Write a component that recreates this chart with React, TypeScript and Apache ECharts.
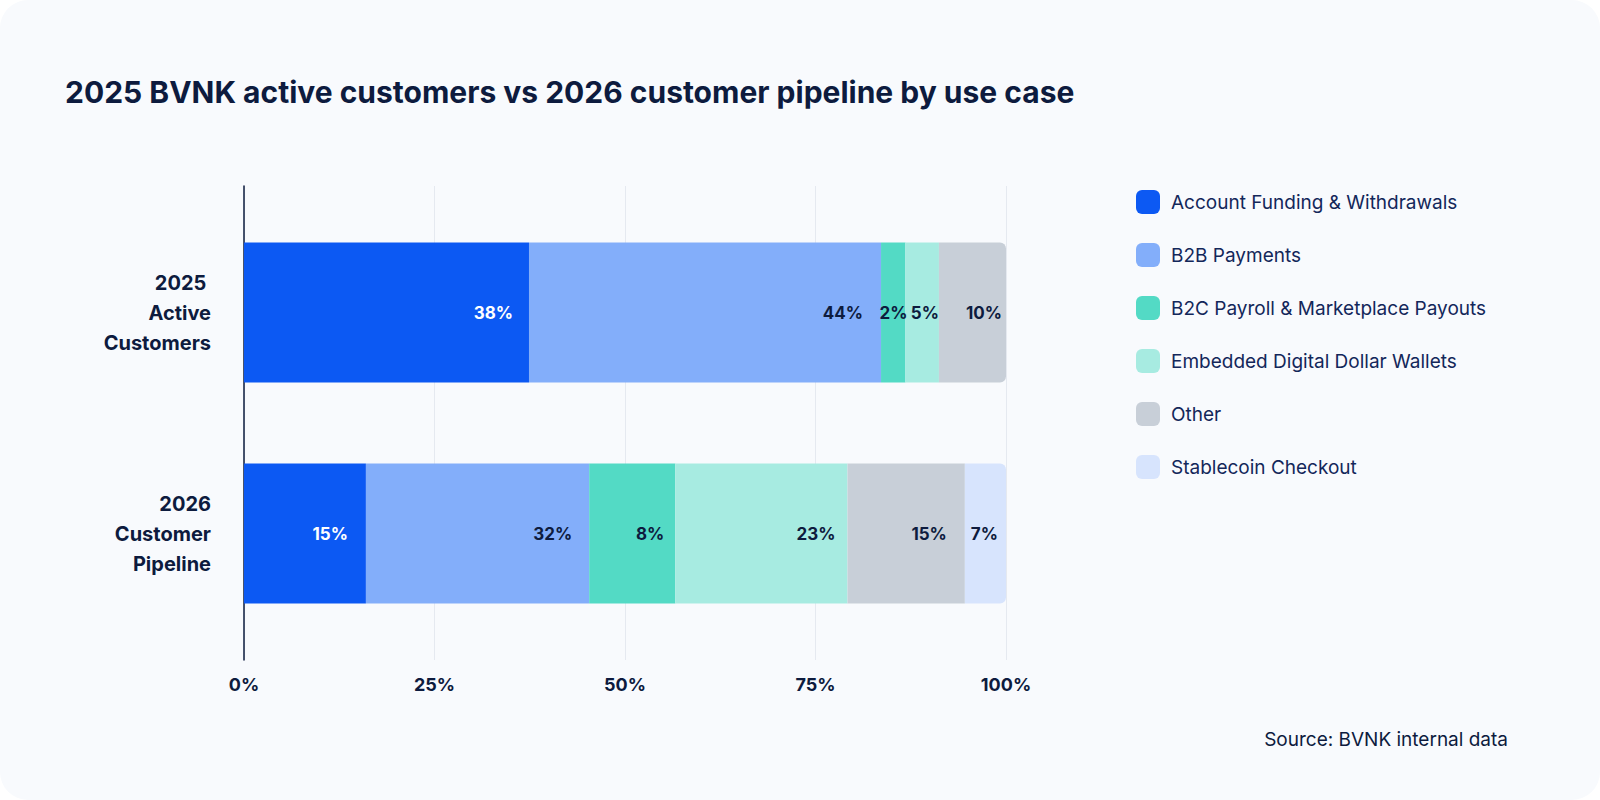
import React, { useEffect, useRef } from "react";
import * as echarts from "echarts";

const categories = ["2025 \nActive\nCustomers", "2026\nCustomer\nPipeline"];
const seriesNames = [
  "Account Funding & Withdrawals",
  "B2B Payments",
  "B2C Payroll & Marketplace Payouts",
  "Embedded Digital Dollar Wallets",
  "Other",
  "Stablecoin Checkout",
];
const seriesColors = ["#0c59f3", "#83aefa", "#53dac5", "#a7ebe1", "#c8cfd8", "#d7e4fd"];
// bar widths (share of 100)
const accountFunding = [37.4, 16.0];
const b2bPayments = [46.2, 29.3];
const b2cPayroll = [3.2, 11.3];
const embeddedWallets = [4.4, 22.6];
const other = [8.8, 15.4];
const stablecoinCheckout = [0, 5.4];
// printed labels
const accountFundingLabels = [38, 15];
const b2bPaymentsLabels = [44, 32];
const b2cPayrollLabels = [2, 8];
const embeddedWalletsLabels = [5, 23];
const otherLabels = [10, 15];
const stablecoinCheckoutLabels = [null, 7];
const xTicks = [0, 25, 50, 75, 100];

const values = [accountFunding, b2bPayments, b2cPayroll, embeddedWallets, other, stablecoinCheckout];
const labels = [
  accountFundingLabels,
  b2bPaymentsLabels,
  b2cPayrollLabels,
  embeddedWalletsLabels,
  otherLabels,
  stablecoinCheckoutLabels,
];
// label inset from segment's right end (style), per series per category
const labelInset = [
  [16, 18],
  [18, 17],
  [-2, 11],
  [0, 12],
  [4, 18],
  [0, 8],
];

const NAVY = "#0d1b3e";
const LEGEND_TEXT = "#13275a";
const FONT = "Inter, 'Noto Sans', sans-serif";

export default function App() {
  const ref = useRef<HTMLDivElement>(null);
  useEffect(() => {
    if (!ref.current) return;
    const chart = echarts.init(ref.current, undefined, { renderer: "svg" });
    const lastIdx = categories.map((_, ci) => {
      let li = 0;
      values.forEach((v, si) => {
        if (v[ci] > 0) li = si;
      });
      return li;
    });
    const series = seriesNames.map((name, si) => ({
      type: "bar",
      name,
      stack: "total",
      xAxisIndex: 1,
      yAxisIndex: 1,
      barWidth: 140,
      itemStyle: { color: seriesColors[si] },
      data: values[si].map((v, ci) => ({
        value: v,
        itemStyle: lastIdx[ci] === si ? { borderRadius: [0, 6, 6, 0] } : undefined,
        label: { distance: labelInset[si][ci] },
      })),
      label: {
        show: true,
        position: "insideRight",
        fontFamily: FONT,
        fontSize: 17,
        fontWeight: "bold",
        color: si === 0 ? "#ffffff" : NAVY,
        formatter: (p: any) => {
          const l = labels[si][p.dataIndex];
          return l == null ? "" : `${l}%`;
        },
      },
    }));
    chart.setOption({
      animation: false,
      backgroundColor: "transparent",
      title: {
        text: "2025 BVNK active customers vs 2026 customer pipeline by use case",
        left: 60,
        top: 72,
        textStyle: { fontFamily: FONT, fontSize: 30, fontWeight: "bold", color: NAVY },
      },
      legend: {
        orient: "vertical",
        left: 1131,
        top: 185,
        itemWidth: 24,
        itemHeight: 24,
        itemGap: 29,
        icon: "roundRect",
        data: seriesNames,
        textStyle: { fontFamily: FONT, fontSize: 19, color: LEGEND_TEXT, padding: [0, 0, 0, 6] },
      },
      grid: [
        { left: 244, right: 594, top: 186, bottom: 140 },
        { left: 244, right: 594, top: 202, bottom: 156 },
      ],
      xAxis: [
        {
          type: "value",
          gridIndex: 0,
          min: 0,
          max: 100,
          interval: 25,
          axisLine: { show: false },
          axisTick: { show: false },
          splitLine: { show: true, lineStyle: { color: "#e5e9f0", width: 1 } },
          axisLabel: {
            margin: 15,
            fontFamily: FONT,
            fontSize: 18,
            fontWeight: "bold",
            color: NAVY,
            formatter: (v: number) => (xTicks.includes(v) ? `${v}%` : ""),
          },
        },
        {
          type: "value",
          gridIndex: 1,
          min: 0,
          max: 100,
          show: false,
        },
      ],
      yAxis: [
        {
          type: "category",
          gridIndex: 0,
          data: ["", ""],
          axisLine: { show: true, lineStyle: { color: NAVY, width: 1.5 } },
          axisTick: { show: false },
          axisLabel: { show: false },
          splitLine: { show: false },
        },
        {
          type: "category",
          gridIndex: 1,
          data: categories,
          inverse: true,
          axisLine: { show: false },
          axisTick: { show: false },
          axisLabel: {
            margin: 33,
            fontFamily: FONT,
            fontSize: 20,
            fontWeight: "bold",
            lineHeight: 30,
            color: NAVY,
            align: "right",
          },
        },
      ],
      graphic: [
        {
          type: "text",
          right: 92,
          top: 730,
          style: {
            text: "Source: BVNK internal data",
            fontFamily: FONT,
            fontSize: 19,
            fill: NAVY,
          },
        },
      ],
      series,
    });
    return () => chart.dispose();
  }, []);
  return (
    <div
      style={{
        position: "fixed",
        left: 0,
        top: 0,
        width: 1600,
        height: 800,
        background: "#ffffff",
      }}
    >
      <div
        style={{
          position: "absolute",
          left: 0,
          top: 0,
          width: 1600,
          height: 800,
          background: "#f8fafd",
          borderRadius: 28,
        }}
      />
      <div ref={ref} style={{ position: "absolute", left: 0, top: 0, width: 1600, height: 800 }} />
    </div>
  );
}
